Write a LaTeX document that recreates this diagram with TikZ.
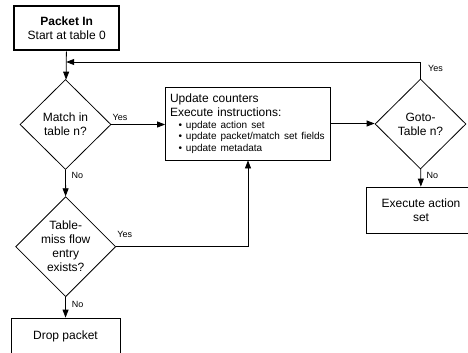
\documentclass[tikz,border=0pt]{standalone}
\usepackage{fontspec}
\setmainfont{Liberation Sans}
\usepackage{tikz}
\usetikzlibrary{shapes, arrows.meta}

\begin{document}
\begin{tikzpicture}[x=1pt, y=-1pt,
	font=\fontsize{12}{14}\selectfont,
	box/.style={draw, line width=0.8pt, rectangle, inner sep=0pt, align=center},
	decision/.style={draw, line width=0.8pt, diamond, inner sep=0pt, align=center, minimum width=91pt, minimum height=90pt},
	lbl/.style={inner sep=1pt, anchor=base west, font=\fontsize{9}{10}\selectfont},
	flow/.style={line width=0.8pt, -{Triangle[length=8pt, width=6pt]}}]
	\useasboundingbox (0,0) rectangle (468,353);
	\clip (0,0) rectangle (468,353);
	\node[box, line width=2.4pt, minimum width=105pt, minimum height=44pt] (packetin) at (66.7,28.3) {\textbf{Packet In}\\Start at table 0};
	\node[decision] (match) at (65.5,124.5) {Match in\\table n?};
	\node[decision, minimum width=100pt, minimum height=100pt] (miss) at (65.7,246.7) {Table-\\miss flow\\entry\\exists?};
	\node[box, minimum width=109pt, minimum height=37pt] (drop) at (65.5,336.5) {Drop packet};
	\node[box, text width=156pt, inner sep=4.5pt, align=left, minimum height=73pt] (update) at (248,123.5) {Update counters\\Execute instructions:\par{\fontsize{10}{11.5}\selectfont\leftskip=8.5pt •~update action set\par •~update packet/match set fields\par •~update metadata\par}};
	\node[decision] (goto) at (420.5,124) {Goto-\\Table n?};
	\node[box, minimum width=110pt, minimum height=46pt] (execute) at (421,210) {Execute action\\set};
	\coordinate (back) at (66.2,62);
	\draw[flow] (packetin) -- (match);
	\draw[flow] (goto.north) |- (back);
	\draw[flow] (match.east) -- (match.east -| update.west);
	\draw[flow] (update.east) -- (update.east -| goto.west);
	\draw[flow] (goto) -- (execute);
	\draw[flow] (match) -- (miss);
	\draw[flow] (miss.east) -| (update.south);
	\draw[flow] (miss) -- (drop);
	\node[lbl] (yesmatch) at ([yshift=4.5pt]match.east) {Yes};
	\node[lbl] (nomatch) at ([xshift=5pt, yshift=-8.3pt]match.south) {No};
	\node[lbl] (yesmiss) at ([yshift=9pt]miss.east) {Yes};
	\node[lbl] (nomiss) at ([xshift=5pt, yshift=-10pt]miss.south) {No};
	\node[lbl] (yesgoto) at ([xshift=6.5pt, yshift=6.7pt]goto.north) {Yes};
	\node[lbl] (nogoto) at ([xshift=5pt, yshift=-9.3pt]goto.south) {No};
\end{tikzpicture}
\end{document}
